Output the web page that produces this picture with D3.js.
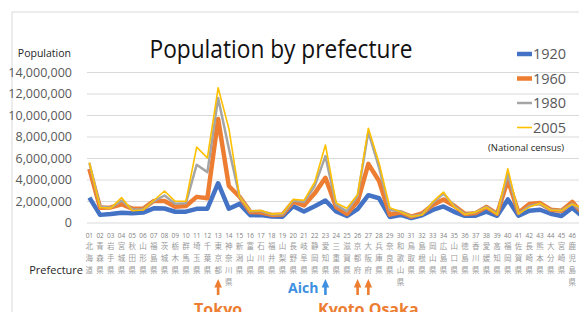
<!DOCTYPE html>
<html lang="ja">
<head>
<meta charset="UTF-8">
<title>Population by prefecture</title>
<script src="https://cdn.jsdelivr.net/npm/d3@7"></script>
<style>
  body { margin: 0; background: #fff; }
  svg { display: block; }
</style>
</head>
<body>
<div id="chart"></div>
<script>
const codes = ["01","02","03","04","05","06","07","08","09","10","11","12","13","14","15","16",
  "17","18","19","20","21","22","23","24","25","26","27","28","29","30","31","32","33","34","35",
  "36","37","38","39","40","41","42","43","44","45","46","47"];

const prefNames = ["北海道","青森県","岩手県","宮城県","秋田県","山形県","福島県","茨城県","栃木県","群馬県",
  "埼玉県","千葉県","東京都","神奈川県","新潟県","富山県","石川県","福井県","山梨県","長野県","岐阜県",
  "静岡県","愛知県","三重県","滋賀県","京都府","大阪府","兵庫県","奈良県","和歌山県","鳥取県","島根県",
  "岡山県","広島県","山口県","徳島県","香川県","愛媛県","高知県","福岡県","佐賀県","長崎県","熊本県",
  "大分県","宮崎県","鹿児島県","沖縄県"];

// values in thousands
const pop1920 = [2359,756,846,962,899,969,1363,1350,1046,1053,1320,1336,3699,1323,1776,724,747,599,583,
  1563,1070,1550,2090,1069,651,1287,2588,2302,565,750,455,715,1218,1542,1041,670,678,1046,671,2188,674,
  1137,1233,861,651,1416,572];
const pop1960 = [5039,1427,1449,1743,1336,1321,2051,2047,1514,1578,2431,2306,9684,3443,2442,1033,973,753,
  782,1981,1638,2756,4206,1485,843,1993,5505,3906,781,1002,599,889,1670,2184,1602,847,919,1501,855,4007,
  943,1760,1856,1240,1135,1963,883];
const pop1980 = [5576,1524,1422,2082,1257,1252,2035,2558,1792,1849,5420,4735,11618,6924,2451,1103,1119,794,
  804,2084,1960,3447,6222,1687,1080,2527,8473,5145,1209,1087,604,785,1871,2739,1587,825,1000,1507,831,4553,
  866,1591,1790,1229,1152,1785,1107];
const pop2005 = [5628,1437,1385,2360,1146,1216,2091,2975,2017,2024,7054,6056,12577,8792,2431,1112,1174,822,
  885,2196,2107,3792,7255,1867,1380,2648,8817,5591,1421,1036,607,742,1957,2877,1493,810,1012,1468,796,5050,
  866,1479,1842,1210,1153,1753,1362];

const yTicks = [0,2000000,4000000,6000000,8000000,10000000,12000000,14000000];

const seriesNames = ["1920","1960","1980","2005"];
const seriesValues = [pop1920, pop1960, pop1980, pop2005];
const seriesColors = ["#4472C4","#ED7D31","#A5A5A5","#FFC000"];
const seriesWidths = [4.5, 4.5, 2.5, 1.6];

const callouts = [
  { code: "13", color: "#ED7D31" },
  { code: "23", color: "#3D8FE0" },
  { code: "26", color: "#ED7D31" },
  { code: "27", color: "#ED7D31" }
];

const W = 579, H = 312;
const svg = d3.select("#chart").append("svg").attr("width", W).attr("height", H);
const cjk = "'Noto Sans CJK JP', 'Noto Sans', sans-serif";
const sans = "'Open Sans', 'Noto Sans', sans-serif";

// outer frame (cropped)
svg.append("path").attr("d", `M12,${H}V12H${W}`).attr("fill", "none").attr("stroke", "#d9d9d9");

const x = d3.scaleBand().domain(codes).range([84, 84 + 47 * 10.73]);
const y = d3.scaleLinear().domain([0, 14000000]).range([223, 72.5]);
const cx = c => x(c) + x.bandwidth() / 2;

// grid
svg.append("g").selectAll("line").data(yTicks).join("line")
  .attr("x1", 87).attr("x2", W)
  .attr("y1", d => y(d)).attr("y2", d => y(d))
  .attr("stroke", "#d9d9d9").attr("stroke-width", 1);

// y labels
svg.append("g").selectAll("text").data(yTicks).join("text")
  .attr("x", 72).attr("y", d => y(d)).attr("dy", "0.35em")
  .attr("text-anchor", "end").attr("font-family", sans).attr("font-size", 12.5)
  .attr("fill", "#595959").text(d => d3.format(",")(d));

svg.append("text").attr("x", 71).attr("y", 57).attr("text-anchor", "end")
  .attr("font-family", sans).attr("font-size", 10.5).attr("fill", "#262626").text("Population");

// title
svg.append("text").attr("x", 281).attr("y", 58).attr("text-anchor", "middle")
  .attr("font-family", sans).attr("font-size", 25).attr("fill", "#111")
  .attr("textLength", 263).attr("lengthAdjust", "spacingAndGlyphs")
  .text("Population by prefecture");

// x labels
const xl = svg.append("g").selectAll("g").data(codes).join("g")
  .attr("transform", d => `translate(${cx(d)},0)`);
xl.append("text").attr("y", 238).attr("text-anchor", "middle")
  .attr("font-family", sans).attr("font-size", 6.5).attr("fill", "#7f7f7f").text(d => d);
xl.each(function(d, i) {
  const chars = Array.from(prefNames[i]);
  d3.select(this).selectAll("text.k").data(chars).join("text").attr("class", "k")
    .attr("y", (c, j) => 249 + j * 12).attr("text-anchor", "middle")
    .attr("font-family", cjk).attr("font-size", 7.5).attr("fill", "#9a9a9a").text(c => c);
});

svg.append("text").attr("x", 83).attr("y", 274).attr("text-anchor", "end")
  .attr("font-family", sans).attr("font-size", 11).attr("fill", "#262626").text("Prefecture");

// lines
const line = d3.line().x((v, i) => cx(codes[i])).y(v => y(v * 1000));
seriesValues.forEach((vals, k) => {
  svg.append("path").datum(vals).attr("d", line)
    .attr("fill", "none").attr("stroke", seriesColors[k])
    .attr("stroke-width", seriesWidths[k]).attr("stroke-linejoin", "round");
});

// legend
const lg = svg.append("g").selectAll("g").data(seriesNames).join("g")
  .attr("transform", (d, i) => `translate(517,${54 + i * 24.5})`);
lg.append("line").attr("x1", 0).attr("x2", 15)
  .attr("stroke", (d, i) => seriesColors[i]).attr("stroke-width", (d, i) => seriesWidths[i]);
lg.append("text").attr("x", 16).attr("dy", "0.35em").attr("font-family", sans)
  .attr("font-size", 14.5).attr("fill", "#595959").text(d => d);
svg.append("text").attr("x", 488).attr("y", 151).attr("font-family", sans)
  .attr("font-size", 9.5).attr("fill", "#262626").text("(National census)");

// callout arrows
svg.append("g").selectAll("path").data(callouts).join("path")
  .attr("d", d => {
    const c = cx(d.code);
    return `M${c},279L${c + 3.8},287.5H${c + 1.3}V295H${c - 1.3}V287.5H${c - 3.8}Z`;
  })
  .attr("fill", d => d.color);

svg.append("text").attr("x", cx("13")).attr("y", 315).attr("text-anchor", "middle")
  .attr("font-family", sans).attr("font-weight", "bold").attr("font-size", 16)
  .attr("fill", "#ED7D31").text("Tokyo");
svg.append("text").attr("x", cx("23") - 7).attr("y", 293).attr("text-anchor", "end")
  .attr("font-family", sans).attr("font-weight", "bold").attr("font-size", 14)
  .attr("fill", "#3D8FE0").text("Aich");
svg.append("text").attr("x", 318).attr("y", 315)
  .attr("font-family", sans).attr("font-weight", "bold").attr("font-size", 16)
  .attr("fill", "#ED7D31").text("Kyoto Osaka");
</script>
</body>
</html>
